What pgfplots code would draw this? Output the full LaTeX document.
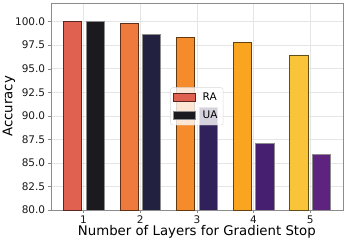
\documentclass[border=0pt]{standalone}
\usepackage{pgfplots}
\pgfplotsset{compat=1.18}
\usepackage{fontspec}
\setmainfont{DejaVu Sans}
\definecolor{ra1}{HTML}{E06150}
\definecolor{ra2}{HTML}{EE7A3D}
\definecolor{ra3}{HTML}{F68B2B}
\definecolor{ra4}{HTML}{F9A520}
\definecolor{ra5}{HTML}{F9C43A}
\definecolor{ua1}{HTML}{1B1A1F}
\definecolor{ua2}{HTML}{232140}
\definecolor{ua3}{HTML}{30215A}
\definecolor{ua4}{HTML}{471F71}
\definecolor{ua5}{HTML}{5E237E}
\begin{document}
\begin{tikzpicture}
\begin{axis}[
  scale only axis,
  width=292.3pt, height=207.3pt,
  xmin=0.42, xmax=5.58,
  ymin=80, ymax=102,
  xtick={1,2,3,4,5},
  ytick={80,82.5,85,87.5,90,92.5,95,97.5,100},
  yticklabel style={/pgf/number format/fixed,/pgf/number format/fixed zerofill,/pgf/number format/precision=1, xshift=1pt},
  /pgf/number format/assume math mode=true,
  tick label style={font=\fontsize{10.5}{12}\selectfont, color=black!90},
  label style={font=\fontsize{13.3}{15}\selectfont},
  xlabel={Number of Layers for Gradient Stop},
  ylabel={Accuracy},
  xlabel style={yshift=5pt},
  ylabel style={yshift=-7pt},
  axis line style={draw=black!45},
  tick style={draw=black!45},
  major tick length=3pt,
  tick align=outside,
  xtick pos=bottom, ytick pos=left,
  xticklabel style={yshift=1pt},
  grid=major,
  major grid style={draw=black!10, line width=0.5pt},
  ybar, bar width=0.32, bar shift=0pt,
  legend style={at={(0.5,0.5)}, anchor=center, fill=white, fill opacity=0.8, text opacity=1, draw=black!15, rounded corners=2pt, font=\fontsize{10.5}{12}\selectfont, row sep=2pt, inner sep=2.5pt, nodes={inner sep=3pt}},
  legend cell align=left,
  legend image code/.code={\draw[#1, sharp corners, fill opacity=1, draw opacity=1] (0pt,-4pt) rectangle (22pt,4pt);},
  every axis plot/.append style={line width=0.6pt},
]
\addplot[fill=ra1, draw=black!60!ra1] coordinates {(0.8,100.0)};
\addlegendentry{\hspace{4pt}RA}
\addplot[fill=ua1, draw=black!45] coordinates {(1.2,100.0)};
\addlegendentry{\hspace{4pt}UA}
\addplot[forget plot, fill=ra2, draw=black!60!ra2] coordinates {(1.8,99.82)};
\addplot[forget plot, fill=ra3, draw=black!60!ra3] coordinates {(2.8,98.35)};
\addplot[forget plot, fill=ra4, draw=black!60!ra4] coordinates {(3.8,97.85)};
\addplot[forget plot, fill=ra5, draw=black!60!ra5] coordinates {(4.8,96.47)};
\addplot[forget plot, fill=ua2, draw=black!45] coordinates {(2.2,98.66)};
\addplot[forget plot, fill=ua3, draw=black!45] coordinates {(3.2,90.9)};
\addplot[forget plot, fill=ua4, draw=black!45] coordinates {(4.2,87.06)};
\addplot[forget plot, fill=ua5, draw=black!45] coordinates {(5.2,85.96)};
\end{axis}
\pgfresetboundingbox
\useasboundingbox (current axis.south west) ++(-50.7pt,-31pt) rectangle ([xshift=3pt,yshift=2.7pt]current axis.north east);
\end{tikzpicture}
\end{document}
